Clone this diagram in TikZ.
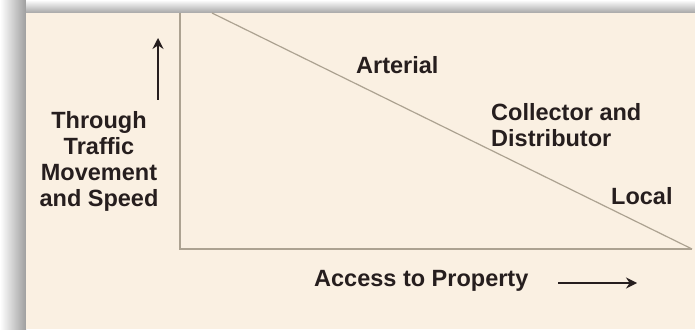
\documentclass[tikz,border=0pt]{standalone}
\usepackage{fontspec}
\setmainfont{Liberation Sans}
\usepackage{xcolor}
\usepackage{tikz}
\usetikzlibrary{arrows.meta,positioning}
\definecolor{creambg}{RGB}{250,240,226}
\definecolor{axisgray}{RGB}{172,162,145}
\definecolor{inkdark}{RGB}{38,30,30}

\begin{document}
\begin{tikzpicture}[x=1pt, y=1pt, every node/.style={font=\bfseries\fontsize{23.5}{26}\selectfont, text=inkdark, inner sep=0pt}, lbl/.style={anchor=west}, axisline/.style={draw=axisgray, line width=1.6pt}, dirarrow/.style={-{Stealth[length=11pt,width=11pt]}, line width=1.6pt, draw=inkdark}]
\useasboundingbox (0,0) rectangle (695,329);
\shade[left color=white, right color=black!38] (0,0) rectangle (26,329);
\shade[top color=white, bottom color=black!35] (26,316) rectangle (695,329);
\fill[creambg] (26,0) rectangle (695,316);
\coordinate (origin) at (180,80);
\coordinate (ytop) at (180,316);
\coordinate (xend) at (692,80);
\coordinate (dstart) at (212,316);
\draw[axisline] (ytop) -- (origin) -- (xend);
\draw[axisline, line width=1.2pt] (dstart) -- (xend);
\node[align=center] (through) at (99,168) {Through\\Traffic\\Movement\\and Speed};
\node[lbl] (arterial) at (356,264) {Arterial};
\node[lbl, align=left] (collector) at (491,204) {Collector and\\Distributor};
\node[lbl] (local) at (611,133) {Local};
\node[lbl] (access) at (314,48) {Access to Property};
\coordinate (upfoot) at (158,229);
\coordinate (uphead) at (158,291);
\coordinate (rightfoot) at (558,46);
\coordinate (righthead) at (637,46);
\draw[dirarrow] (upfoot) -- (uphead);
\draw[dirarrow] (rightfoot) -- (righthead);
\end{tikzpicture}
\end{document}
